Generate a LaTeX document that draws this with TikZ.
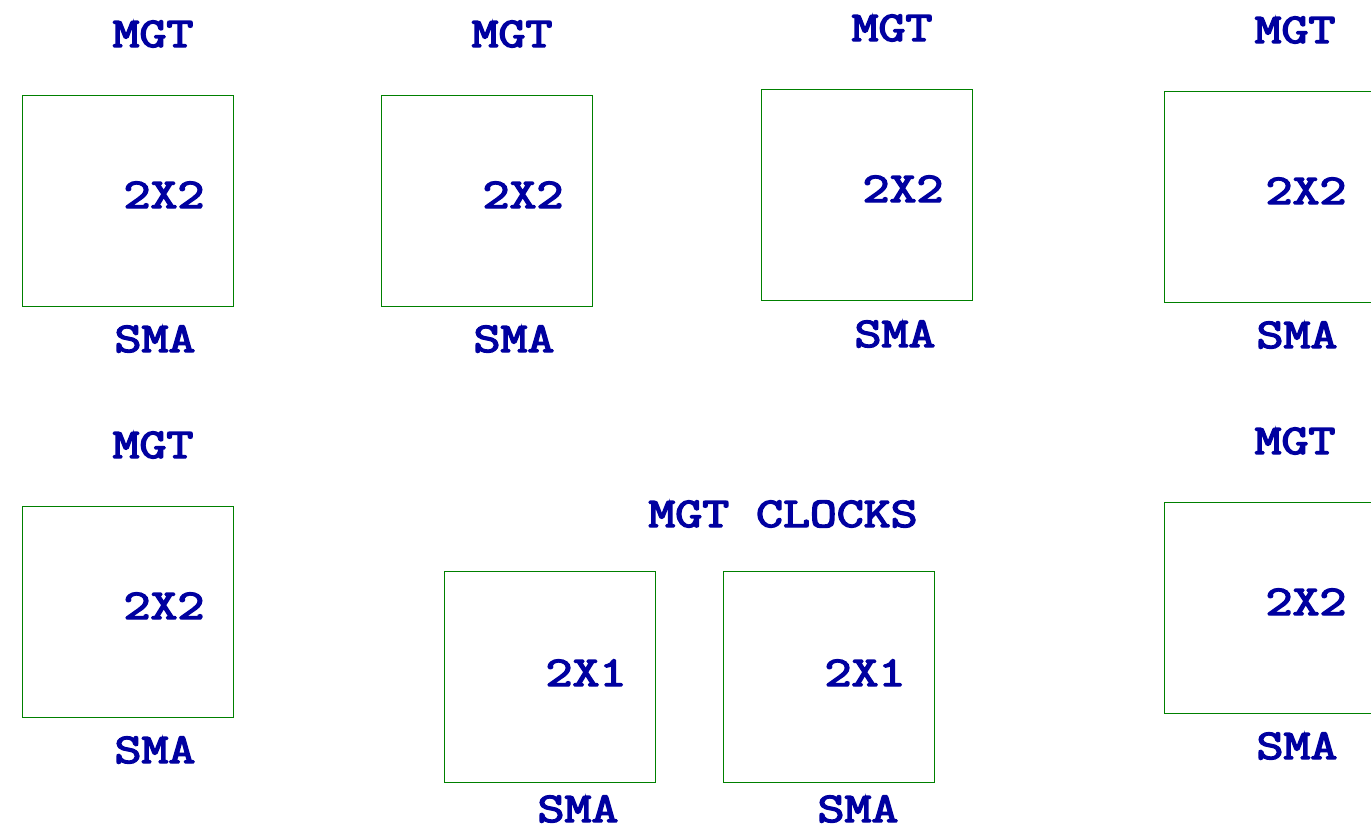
\documentclass[tikz,border=0pt]{standalone}
\usepackage{fontspec}
\newfontfamily\lblfont{Latin Modern Mono}[FakeBold=3.2]
\definecolor{lblue}{RGB}{0,0,160}
\definecolor{bgreen}{RGB}{0,128,0}
\newcommand{\lbltext}[1]{\scalebox{1.23}[1]{#1}}
\begin{document}
\begin{tikzpicture}[x=1pt,y=-1pt,
  box/.style={draw=bgreen,line width=1pt,minimum width=211pt,minimum height=211pt,inner sep=0pt,anchor=north west},
  lbl/.style={text=lblue,font=\fontsize{42.5}{48}\selectfont\lblfont,inner sep=0pt,anchor=base}]
\useasboundingbox (0,0) rectangle (1371,825);
\fill[white] (0,0) rectangle (1371,825);
% row 1
\node[box] (A) at (22,95) {};
\node[lbl] (Am) at (153,47) {\lbltext{MGT}};
\node[lbl] (Ac) at (164,208) {\lbltext{2X2}};
\node[lbl] (As) at (155,352) {\lbltext{SMA}};
\node[box] (B) at (381,95) {};
\node[lbl] (Bm) at (512,47) {\lbltext{MGT}};
\node[lbl] (Bc) at (523,208) {\lbltext{2X2}};
\node[lbl] (Bs) at (514,352) {\lbltext{SMA}};
\node[box] (C) at (761,89) {};
\node[lbl] (Cm) at (892,41) {\lbltext{MGT}};
\node[lbl] (Cc) at (903,202) {\lbltext{2X2}};
\node[lbl] (Cs) at (895,347) {\lbltext{SMA}};
\node[box] (D) at (1164,91) {};
\node[lbl] (Dm) at (1295,43) {\lbltext{MGT}};
\node[lbl] (Dc) at (1306,204) {\lbltext{2X2}};
\node[lbl] (Ds) at (1297,348) {\lbltext{SMA}};
% row 2
\node[box] (E) at (22,506) {};
\node[lbl] (Em) at (153,458) {\lbltext{MGT}};
\node[lbl] (Ec) at (164,619) {\lbltext{2X2}};
\node[lbl] (Es) at (155,763) {\lbltext{SMA}};
\node[lbl] (clk) at (783,527) {\lbltext{MGT CLOCKS}};
\node[box] (F) at (444,571) {};
\node[lbl] (Fc) at (586,686) {\lbltext{2X1}};
\node[lbl] (Fs) at (578,822) {\lbltext{SMA}};
\node[box] (G) at (723,571) {};
\node[lbl] (Gc) at (865,686) {\lbltext{2X1}};
\node[lbl] (Gs) at (858,822) {\lbltext{SMA}};
\node[box] (H) at (1164,502) {};
\node[lbl] (Hm) at (1295,454) {\lbltext{MGT}};
\node[lbl] (Hc) at (1306,615) {\lbltext{2X2}};
\node[lbl] (Hs) at (1297,759) {\lbltext{SMA}};
\end{tikzpicture}
\end{document}
